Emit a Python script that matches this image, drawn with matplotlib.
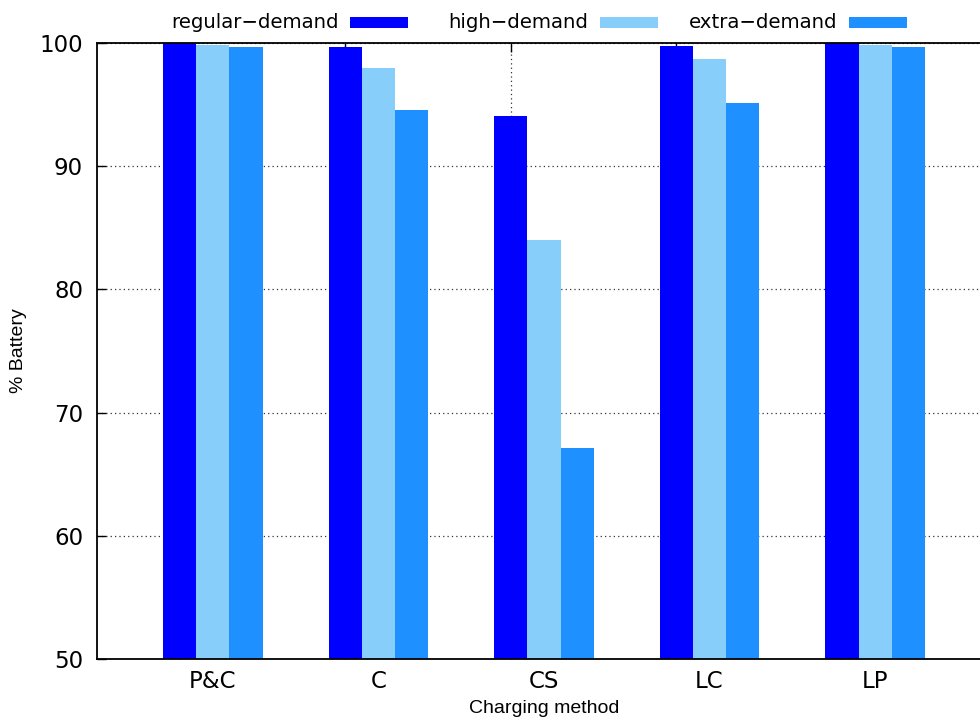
import matplotlib
matplotlib.use("Agg")
import matplotlib.pyplot as plt
import numpy as np
from matplotlib.patches import Rectangle

categories = ["P&C", "C", "CS", "LC", "LP"]
series_names = ["regular\u2212demand", "high\u2212demand", "extra\u2212demand"]
regular_demand = [100.0, 99.7, 94.1, 99.75, 100.0]
high_demand = [99.85, 98.0, 84.0, 98.7, 99.85]
extra_demand = [99.7, 94.6, 67.1, 95.15, 99.7]
colors = ["#0000FF", "#87CEFA", "#1E90FF"]
yticks = [50, 60, 70, 80, 90, 100]

W, H = 980, 718
fig = plt.figure(figsize=(W/100, H/100), dpi=100)
ax = fig.add_axes([97/W, (H-659)/H, (W-97)/W, (659-43)/H])

x = np.arange(len(categories))
w = 0.2
for k, (vals, name, c) in enumerate(zip([regular_demand, high_demand, extra_demand], series_names, colors)):
    ax.bar(x + k*w, np.array(vals) - 50, bottom=50, width=w, color=c, label=name, zorder=2, linewidth=0)

ax.set_ylim(50, 100)
ax.set_xlim(-0.5, (W-179.5)/165.6)
ax.set_yticks(yticks)
ax.set_yticklabels([str(v) for v in yticks])
ax.set_xticks(x)
ax.set_xticklabels([])
ax.set_xticks(x + w, minor=True)
ax.set_xticklabels(categories, minor=True)

ax.tick_params(axis="both", which="major", direction="in", length=6.5, width=1, labelsize=16.5, top=True, right=False, pad=10)
ax.tick_params(axis="x", which="minor", length=0, labelsize=16.5, pad=8)
ax.tick_params(axis="x", which="major", length=6.5)

ax.grid(True, which="major", linestyle=(0, (1, 2.5)), linewidth=0.9, color="#333333", zorder=0)
ax.set_axisbelow(True)

for s in ["left", "top", "bottom"]:
    ax.spines[s].set_linewidth(1.3)
ax.spines["right"].set_visible(False)

ax.set_ylabel("% Battery", fontsize=14, family="Liberation Sans")
ax.yaxis.set_label_coords(-(97-27)/883, 0.5)
ax.set_xlabel("Charging method", fontsize=14, family="Liberation Sans")
ax.xaxis.set_label_coords((544-97)/883, -(700-659)/616)

# gnuplot-style key: fixed-width columns, right-justified text, then swatch
for k, (name, c) in enumerate(zip(series_names, colors)):
    sx = 350 + 249.5 * k
    fig.patches.append(Rectangle((sx / W, 1 - 27.7 / H), 58 / W, 11 / H,
                                 transform=fig.transFigure, facecolor=c, edgecolor="none"))
    fig.text((sx - 11.5) / W, 1 - 27.5 / H, name, ha="right", va="baseline", fontsize=14.2)

fig.savefig("out.png", dpi=100)
